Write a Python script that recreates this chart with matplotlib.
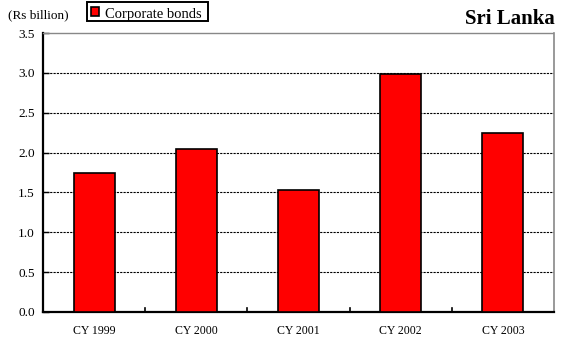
import matplotlib
matplotlib.use("Agg")
import matplotlib.pyplot as plt
from matplotlib.patches import Rectangle

plt.rcParams['font.family'] = ['Liberation Serif', 'DejaVu Serif']

categories = ["CY 1999", "CY 2000", "CY 2001", "CY 2002", "CY 2003"]
values = [1.75, 2.05, 1.53, 2.98, 2.25]
yticks = [0.0, 0.5, 1.0, 1.5, 2.0, 2.5, 3.0, 3.5]

fig = plt.figure(figsize=(5.61, 3.38), dpi=100)
ax = fig.add_axes([43/561, 1 - 312/338, (554-43)/561, (312-33)/338])

x = list(range(len(categories)))
ax.bar(x, values, width=0.4, color="#ff0000", edgecolor="black", linewidth=1.2, zorder=3)

ax.set_xlim(-0.5, len(categories) - 0.5)
ax.set_ylim(0, 3.5)
ax.set_yticks(yticks)
ax.set_yticklabels([f"{v:.1f}" for v in yticks], fontsize=9.5)
ax.set_xticks(x)
ax.set_xticklabels(categories, fontsize=8.6)
ax.tick_params(axis='x', length=0, pad=9)
ax.tick_params(axis='y', length=4, width=1, direction='in', pad=6)

# category separators on the baseline
for b in [i + 0.5 for i in range(len(categories) - 1)]:
    ax.plot([b, b], [0, 0.05], color="black", lw=1.2, zorder=4, clip_on=False)

for v in yticks[1:-1]:
    ax.axhline(v, color="black", lw=0.8, ls=(0, (2, 1)), zorder=1)

ax.spines['left'].set_linewidth(1.6)
ax.spines['bottom'].set_linewidth(1.6)
ax.spines['top'].set_color("#888888")
ax.spines['top'].set_linestyle((0, (1, 1)))
ax.spines['top'].set_linewidth(1.0)
ax.spines['right'].set_color("#888888")
ax.spines['right'].set_linewidth(1.2)

fig.text(8/561, 1 - 15/338, "(Rs billion)", fontsize=9.5, va="center", ha="left")
fig.text(555/561, 1 - 19/338, "Sri Lanka", fontsize=15, fontweight="bold", va="center", ha="right")

# legend box
fig.patches.append(Rectangle((87/561, 1 - 21/338), 121/561, 19/338, transform=fig.transFigure,
                             facecolor="white", edgecolor="black", lw=1.4))
fig.patches.append(Rectangle((91/561, 1 - 16/338), 8/561, 9/338, transform=fig.transFigure,
                             facecolor="#ff0000", edgecolor="black", lw=1.2))
fig.text(105/561, 1 - 18/338, "Corporate bonds", fontsize=10.5, va="baseline", ha="left")

fig.savefig("out.png", dpi=100)
